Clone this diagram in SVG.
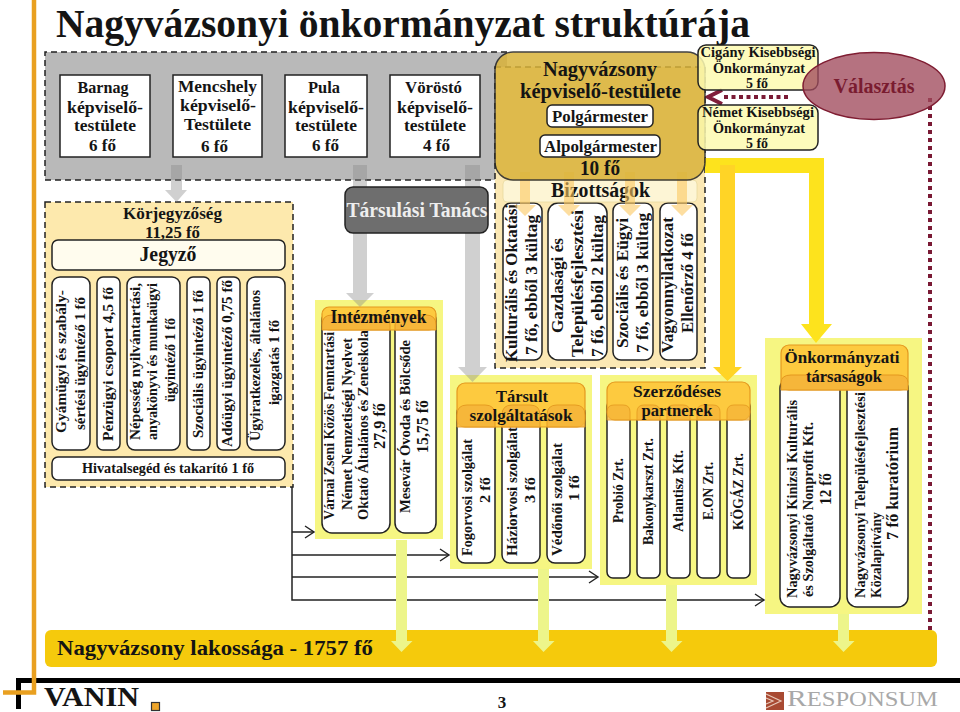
<svg xmlns="http://www.w3.org/2000/svg" width="960" height="712" viewBox="0 0 960 712">
<style>
text{font-family:"Liberation Serif","Times New Roman",serif;font-weight:bold;fill:#141414}
.m{text-anchor:middle}
.f14{font-size:15px}.f15{font-size:17px}.f16{font-size:17px}.f16b{font-size:18px}.f17{font-size:20px}.f18{font-size:20px}.f20{font-size:21px}
.box{fill:#fff;stroke:#222;stroke-width:1.5}
.col{fill:#fff;stroke:#222;stroke-width:1.5}
.dash{stroke:#222;stroke-width:1.5;stroke-dasharray:6 4;fill:none}
.pan{fill:#f6f682}
.hd{fill:#fdca3f;stroke:#e4981f;stroke-width:1.2}
.hc{fill:#f6b63a;stroke:#e4981f;stroke-width:1}
.ga{fill:#898989;opacity:.4}
.pa{fill:#edf58a}
.sa{fill:#fbc860;opacity:.6}
.blk{fill:none;stroke:#222;stroke-width:1.5}
</style>
<defs>
<marker id="open" markerUnits="userSpaceOnUse" markerWidth="12" markerHeight="14" refX="10" refY="7" orient="auto"><path d="M1 1L10 7L1 13" fill="none" stroke="#222" stroke-width="1.4"/></marker>
</defs>
<g id="frame">
<rect x="16" y="678" width="944" height="5" fill="#000"/>
<rect x="16" y="678" width="5" height="31" fill="#000"/>
<path d="M34 0V692.500H3" fill="none" stroke="#e9a020" stroke-width="4.500"/>
</g>
<text class="title" x="56" y="37" font-size="40" textLength="694" lengthAdjust="spacingAndGlyphs">Nagyvázsonyi önkormányzat struktúrája</text>
<g id="panels">
<rect x="45" y="52" width="462" height="128" fill="#b9b9b9"/>
<path class="dash" d="M507 52H45V180H507"/>
<rect x="45" y="202" width="248" height="285" fill="#fde9ad"/>
<rect class="dash" x="45" y="202" width="248" height="285"/>
<rect x="495" y="67" width="210" height="301" fill="#fbe8b4"/>
<rect class="dash" x="495" y="67" width="210" height="301"/>
<rect class="pan" x="315" y="300" width="128" height="239"/>
<rect class="pan" x="450" y="375" width="142" height="194"/>
<rect class="pan" x="600" y="375" width="157" height="210"/>
<rect class="pan" x="765" y="338" width="157" height="276"/>
<rect x="45" y="630" width="892" height="37" rx="6" fill="#f5ca0c"/>
</g>
<g id="connectors">
<path class="blk" d="M292 487V600H764" marker-end="url(#open)"/>
<path class="blk" d="M292 532H314" marker-end="url(#open)"/>
<path class="blk" d="M292 555H449" marker-end="url(#open)"/>
<path class="blk" d="M292 577H598" marker-end="url(#open)"/>
<path class="ga" d="M171 165H182V190H187L176.500 202L165 190H171Z"/>
<path class="ga" d="M353 165H367V293H374L360 307L346 293H353Z"/>
<path class="ga" d="M465 165H480V367H487L472.500 382L458 367H465Z"/>
<path d="M705 158H824V324H832L816 343L801 324H809V173H705Z" fill="#fde31d"/>
<path d="M720 165H735V367H742L727.500 381L713 367H720Z" fill="#ffd426"/>
<path class="pa" d="M396 540H407V641H412.500L401.500 652L391 641H396Z"/>
<path class="pa" d="M538 569H549V641H554.500L543.500 652L533 641H538Z"/>
<path class="pa" d="M666 585H677V641H682.500L671.500 652L661 641H666Z"/>
<path class="pa" d="M838 614H849V641H854.500L843.500 652L833 641H838Z"/>
<path d="M930 98V630" fill="none" stroke="#7a1a35" stroke-width="4" stroke-dasharray="4 4"/>
<path d="M788 97H722" fill="none" stroke="#7a1a35" stroke-width="4" stroke-dasharray="4 3.500"/>
<path d="M722 90L708 97L722 104" fill="none" stroke="#7f1d3a" stroke-width="4"/>
</g>
<g id="barnag"><rect class="box" x="60" y="75" width="90" height="82"/>
<text class="f16 m" x="103" y="93" textLength="51" lengthAdjust="spacingAndGlyphs">Barnag</text><text class="f16 m" x="105" y="113" textLength="76" lengthAdjust="spacingAndGlyphs">képviselő-</text><text class="f16 m" x="105" y="131" textLength="62" lengthAdjust="spacingAndGlyphs">testülete</text><text class="f16 m" x="102.500" y="151" textLength="27" lengthAdjust="spacingAndGlyphs">6 fő</text></g>
<g id="mencshely"><rect class="box" x="173" y="75" width="89" height="82"/>
<text class="f16 m" x="217.500" y="92" textLength="79" lengthAdjust="spacingAndGlyphs">Mencshely</text><text class="f16 m" x="218" y="111" textLength="76" lengthAdjust="spacingAndGlyphs">képviselő-</text><text class="f16 m" x="217.500" y="130" textLength="67" lengthAdjust="spacingAndGlyphs">Testülete</text><text class="f16 m" x="214.500" y="152" textLength="27" lengthAdjust="spacingAndGlyphs">6 fő</text></g>
<g id="pula"><rect class="box" x="285" y="75" width="82" height="82"/>
<text class="f16 m" x="324" y="93" textLength="32" lengthAdjust="spacingAndGlyphs">Pula</text><text class="f16 m" x="326" y="113" textLength="76" lengthAdjust="spacingAndGlyphs">képviselő-</text><text class="f16 m" x="326" y="131" textLength="62" lengthAdjust="spacingAndGlyphs">testülete</text><text class="f16 m" x="325.500" y="151" textLength="27" lengthAdjust="spacingAndGlyphs">6 fő</text></g>
<g id="vorosto"><rect class="box" x="390" y="75" width="90" height="82"/>
<text class="f16 m" x="433.500" y="93" textLength="57" lengthAdjust="spacingAndGlyphs">Vöröstó</text><text class="f16 m" x="435" y="113" textLength="76" lengthAdjust="spacingAndGlyphs">képviselő-</text><text class="f16 m" x="435" y="131" textLength="62" lengthAdjust="spacingAndGlyphs">testülete</text><text class="f16 m" x="436.500" y="151" textLength="27" lengthAdjust="spacingAndGlyphs">4 fő</text></g>
<g id="tarsulasi"><rect x="345" y="187" width="143" height="46" rx="8" fill="#6e6e6e" stroke="#222" stroke-width="1.500"/>
<text class="f17 m" x="417" y="217" textLength="141" lengthAdjust="spacingAndGlyphs" style="fill:#eee">Társulási Tanács</text></g>
<g id="korjegyzoseg">
<text class="f16 m" x="172.500" y="219" textLength="99" lengthAdjust="spacingAndGlyphs">Körjegyzőség</text>
<text class="f16 m" x="172.500" y="238" textLength="55" lengthAdjust="spacingAndGlyphs">11,25 fő</text>
<rect x="52" y="240" width="233" height="30" rx="6" fill="#fffcee" stroke="#222" stroke-width="1.500"/>
<text class="f18 m" x="168" y="261" textLength="57" lengthAdjust="spacingAndGlyphs">Jegyző</text>
<rect class="col" x="52" y="277" width="38" height="173" rx="8"/><rect class="col" x="97" y="277" width="23" height="173" rx="6"/><rect class="col" x="127" y="277" width="53" height="173" rx="8"/><rect class="col" x="187" y="277" width="23" height="173" rx="6"/><rect class="col" x="217" y="277" width="23" height="173" rx="6"/><rect class="col" x="247" y="277" width="38" height="173" rx="8"/>
<text class="f14" transform="translate(66 433) rotate(-90)" textLength="143" lengthAdjust="spacingAndGlyphs">Gyámügyi és  szabály-</text>
<text class="f14" transform="translate(85 430) rotate(-90)" textLength="133" lengthAdjust="spacingAndGlyphs">sértési ügyintéző 1 fő</text>
<text class="f14" transform="translate(113 441) rotate(-90)" textLength="154" lengthAdjust="spacingAndGlyphs">Pénzügyi csoport  4,5  fő</text>
<text class="f14" transform="translate(140 440) rotate(-90)" textLength="157" lengthAdjust="spacingAndGlyphs">Népesség nyilvántartási,</text>
<text class="f14" transform="translate(157 440) rotate(-90)" textLength="157" lengthAdjust="spacingAndGlyphs">anyakönyvi és munkaügyi</text>
<text class="f14" transform="translate(175 402) rotate(-90)" textLength="84" lengthAdjust="spacingAndGlyphs">ügyintéző 1 fő</text>
<text class="f14" transform="translate(203 438) rotate(-90)" textLength="148" lengthAdjust="spacingAndGlyphs">Szociális ügyintéző 1 fő</text>
<text class="f14" transform="translate(232 447) rotate(-90)" textLength="167" lengthAdjust="spacingAndGlyphs">Adóügyi ügyintéző 0,75 fő</text>
<text class="f14" transform="translate(260 441) rotate(-90)" textLength="151" lengthAdjust="spacingAndGlyphs">Ügyiratkezelés, általános</text>
<text class="f14" transform="translate(279 405) rotate(-90)" textLength="85" lengthAdjust="spacingAndGlyphs">igazgatás 1 fő</text>
<rect class="box" x="52" y="457" width="233" height="23" rx="6"/>
<text class="f14 m" x="168" y="473" textLength="172" lengthAdjust="spacingAndGlyphs">Hivatalsegéd és takarító 1 fő</text>
</g>
<g id="intezmenyek">
<rect class="col" x="322" y="310" width="68" height="223" rx="10"/><rect class="col" x="395" y="310" width="41" height="223" rx="10"/>
<text class="f14" transform="translate(334 520) rotate(-90)" textLength="188" lengthAdjust="spacingAndGlyphs">Várnai Zseni Közös Fenntartási</text>
<text class="f14" transform="translate(352 510) rotate(-90)" textLength="172" lengthAdjust="spacingAndGlyphs">Német Nemzetiségi Nyelvet</text>
<text class="f14" transform="translate(368 520) rotate(-90)" textLength="190" lengthAdjust="spacingAndGlyphs">Oktató Általános és Zeneiskola</text>
<text class="f15" transform="translate(385 449) rotate(-90)" textLength="46" lengthAdjust="spacingAndGlyphs">27,9 fő</text>
<text class="f14" transform="translate(410 513) rotate(-90)" textLength="173" lengthAdjust="spacingAndGlyphs">Mesevár Óvoda  és Bölcsőde</text>
<text class="f15" transform="translate(428 453) rotate(-90)" textLength="53" lengthAdjust="spacingAndGlyphs">15,75 fő</text>
<rect class="hd" x="322" y="307" width="114" height="23" rx="7"/>
<path class="hc" d="M322 330V325Q322 315 332 315H380Q390 315 390 325V330Z"/><path class="hc" d="M395 330V325Q395 315 405 315H426Q436 315 436 325V330Z"/>
<text class="f16b m" x="378.500" y="323" textLength="96" lengthAdjust="spacingAndGlyphs">Intézmények</text>
</g>
<g id="tarsult">
<rect class="col" x="457" y="405" width="38" height="158" rx="8"/><rect class="col" x="502" y="405" width="38" height="158" rx="8"/><rect class="col" x="547" y="405" width="38" height="158" rx="8"/>
<text class="f14" transform="translate(472 556) rotate(-90)" textLength="117" lengthAdjust="spacingAndGlyphs">Fogorvosi szolgálat</text>
<text class="f14" transform="translate(490 503) rotate(-90)" textLength="26" lengthAdjust="spacingAndGlyphs">2 fő</text>
<text class="f14" transform="translate(517 556) rotate(-90)" textLength="129" lengthAdjust="spacingAndGlyphs">Háziorvosi  szolgálat</text>
<text class="f14" transform="translate(535 503) rotate(-90)" textLength="26" lengthAdjust="spacingAndGlyphs">3 fő</text>
<text class="f14" transform="translate(562 556) rotate(-90)" textLength="113" lengthAdjust="spacingAndGlyphs">Védőnői  szolgálat</text>
<text class="f14" transform="translate(579 501) rotate(-90)" textLength="26" lengthAdjust="spacingAndGlyphs">1 fő</text>
<rect class="hd" x="457" y="383" width="128" height="44" rx="8"/>
<path class="hc" d="M457 427V415Q457 405 467 405H485Q495 405 495 415V427Z" opacity=".9"/>
<path class="hc" d="M502 427V415Q502 405 512 405H530Q540 405 540 415V427Z" opacity=".9"/>
<path class="hc" d="M547 427V415Q547 405 557 405H575Q585 405 585 415V427Z" opacity=".9"/>
<text class="f16 m" x="522" y="402" textLength="52" lengthAdjust="spacingAndGlyphs">Társult</text>
<text class="f16 m" x="521" y="421" textLength="103" lengthAdjust="spacingAndGlyphs">szolgáltatások</text>
</g>
<g id="szerzodeses">
<rect class="col" x="607" y="400" width="23" height="178" rx="6"/><rect class="col" x="637" y="400" width="23" height="178" rx="6"/><rect class="col" x="667" y="400" width="23" height="178" rx="6"/><rect class="col" x="697" y="400" width="23" height="178" rx="6"/><rect class="col" x="727" y="400" width="23" height="178" rx="6"/>
<text class="f14" transform="translate(623 523) rotate(-90)" textLength="65" lengthAdjust="spacingAndGlyphs">Probió Zrt.</text>
<text class="f14" transform="translate(653 545) rotate(-90)" textLength="107" lengthAdjust="spacingAndGlyphs">Bakonykarszt Zrt.</text>
<text class="f14" transform="translate(683 532) rotate(-90)" textLength="82" lengthAdjust="spacingAndGlyphs">Atlantisz Kft.</text>
<text class="f14" transform="translate(713 520) rotate(-90)" textLength="58" lengthAdjust="spacingAndGlyphs">E.ON Zrt.</text>
<text class="f14" transform="translate(743 530) rotate(-90)" textLength="77" lengthAdjust="spacingAndGlyphs">KÖGÁZ Zrt.</text>
<rect class="hd" x="607" y="382" width="143" height="38" rx="8"/>
<path class="hc" d="M607 420V412Q607 405 614 405H623Q630 405 630 412V420Z" opacity=".8"/><path class="hc" d="M637 420V412Q637 405 644 405H653Q660 405 660 412V420Z" opacity=".8"/><path class="hc" d="M667 420V412Q667 405 674 405H683Q690 405 690 412V420Z" opacity=".8"/><path class="hc" d="M697 420V412Q697 405 704 405H713Q720 405 720 412V420Z" opacity=".8"/><path class="hc" d="M727 420V412Q727 405 734 405H743Q750 405 750 412V420Z" opacity=".8"/>
<text class="f16 m" x="677" y="397" textLength="88" lengthAdjust="spacingAndGlyphs">Szerződéses</text>
<text class="f16 m" x="677" y="416" textLength="71" lengthAdjust="spacingAndGlyphs">partnerek</text>
</g>
<g id="onkormanyzati">
<rect class="col" x="780" y="378" width="60" height="229" rx="10"/><rect class="col" x="847" y="378" width="61" height="229" rx="10"/>
<text class="f14" transform="translate(797 598) rotate(-90)" textLength="198" lengthAdjust="spacingAndGlyphs">Nagyvázsonyi Kinizsi Kulturális</text>
<text class="f14" transform="translate(813 597) rotate(-90)" textLength="175" lengthAdjust="spacingAndGlyphs">és Szolgáltató Nonprofit Kft.</text>
<text class="f15" transform="translate(831 505) rotate(-90)" textLength="32" lengthAdjust="spacingAndGlyphs">12 fő</text>
<text class="f14" transform="translate(865 598) rotate(-90)" textLength="206" lengthAdjust="spacingAndGlyphs">Nagyvázsonyi Településfejlesztési</text>
<text class="f14" transform="translate(881 598) rotate(-90)" textLength="86" lengthAdjust="spacingAndGlyphs">Közalapítvány</text>
<text class="f15" transform="translate(898 540) rotate(-90)" textLength="113" lengthAdjust="spacingAndGlyphs">7 fő kuratórium</text>
<rect class="hd" x="781" y="345" width="127" height="45" rx="8"/>
<path class="hc" d="M781 390V383Q781 375 791 375H898Q908 375 908 383V390Z"/>
<text class="f16 m" x="842" y="363" textLength="115" lengthAdjust="spacingAndGlyphs">Önkormányzati</text>
<text class="f16 m" x="844" y="382" textLength="76" lengthAdjust="spacingAndGlyphs">társaságok</text>
</g>
<g id="bizottsagok">
<rect class="col" x="503" y="203" width="39" height="157" rx="8"/><rect class="col" x="548" y="203" width="59" height="157" rx="10"/><rect class="col" x="613" y="203" width="40" height="157" rx="8"/><rect class="col" x="660" y="203" width="37" height="157" rx="8"/>
<text class="f16" transform="translate(517 362) rotate(-90)" textLength="158" lengthAdjust="spacingAndGlyphs">Kulturális és Oktatási</text>
<text class="f16" transform="translate(537 355) rotate(-90)" textLength="140" lengthAdjust="spacingAndGlyphs">7 fő, ebből 3 kültag</text>
<text class="f16" transform="translate(563 333) rotate(-90)" textLength="95" lengthAdjust="spacingAndGlyphs">Gazdasági és</text>
<text class="f16" transform="translate(583 357) rotate(-90)" textLength="147" lengthAdjust="spacingAndGlyphs">Településfejlesztési</text>
<text class="f16" transform="translate(603 357) rotate(-90)" textLength="142" lengthAdjust="spacingAndGlyphs">7 fő, ebből 2 kültag</text>
<text class="f16" transform="translate(628 348) rotate(-90)" textLength="130" lengthAdjust="spacingAndGlyphs">Szociális és Eügyi</text>
<text class="f16" transform="translate(648 353) rotate(-90)" textLength="140" lengthAdjust="spacingAndGlyphs">7 fő, ebből 3 kültag</text>
<text class="f16" transform="translate(673 353) rotate(-90)" textLength="136" lengthAdjust="spacingAndGlyphs">Vagyonnyilatkozat</text>
<text class="f16" transform="translate(693 333) rotate(-90)" textLength="100" lengthAdjust="spacingAndGlyphs">Ellenőrző 4 fő</text>
<rect x="503" y="180" width="194" height="22" rx="4" fill="#fdf5d5" stroke="#e8d9a0" stroke-width=".8"/>
<text class="f18 m" x="600.500" y="197" textLength="99" lengthAdjust="spacingAndGlyphs">Bizottságok</text>
<path class="sa" d="M520 172H530V205H536L525 216L514 205H520Z"/><path class="sa" d="M564 172H574V205H580L569 216L558 205H564Z"/><path class="sa" d="M625 172H635V205H641L630 216L619 205H625Z"/><path class="sa" d="M677 172H687V205H693L682 216L671 205H677Z"/>
</g>
<g id="nagyvazsony">
<rect x="495" y="52" width="210" height="128" rx="18" fill="#d9b33a" opacity=".85" stroke="#222" stroke-width="1.500"/>
<text class="f20 m" x="600" y="76" textLength="114" lengthAdjust="spacingAndGlyphs">Nagyvázsony</text>
<text class="f20 m" x="600.500" y="98" textLength="161" lengthAdjust="spacingAndGlyphs">képviselő-testülete</text>
<rect class="box" x="547" y="105" width="106" height="22" rx="5"/>
<text class="f16 m" x="600" y="122" textLength="96" lengthAdjust="spacingAndGlyphs">Polgármester</text>
<rect class="box" x="540" y="135" width="120" height="22" rx="5"/>
<text class="f16 m" x="600.500" y="152" textLength="113" lengthAdjust="spacingAndGlyphs">Alpolgármester</text>
<text class="f18 m" x="600" y="175" textLength="40" lengthAdjust="spacingAndGlyphs">10 fő</text>
</g>
<g id="cigany"><rect x="698" y="45" width="120" height="45" rx="8" fill="#fdfab0" fill-opacity=".85" stroke="#222" stroke-width="1.500"/>
<text class="f14 m" x="758" y="57" textLength="115" lengthAdjust="spacingAndGlyphs">Cigány Kisebbségi</text><text class="f14 m" x="759" y="73" textLength="92" lengthAdjust="spacingAndGlyphs">Önkormányzat</text><text class="f14 m" x="757" y="88" textLength="22" lengthAdjust="spacingAndGlyphs">5 fő</text></g>
<g id="nemet"><rect x="698" y="105" width="120" height="45" rx="8" fill="#fdfab0" fill-opacity=".85" stroke="#222" stroke-width="1.500"/>
<text class="f14 m" x="758" y="117" textLength="112" lengthAdjust="spacingAndGlyphs">Német Kisebbségi</text><text class="f14 m" x="759" y="133" textLength="92" lengthAdjust="spacingAndGlyphs">Önkormányzat</text><text class="f14 m" x="757" y="148" textLength="22" lengthAdjust="spacingAndGlyphs">5 fő</text></g>
<g id="valasztas"><ellipse cx="874" cy="86" rx="71" ry="33.500" fill="#a04a5c" fill-opacity=".78" stroke="#7f1d32" stroke-width="1.500"/>
<text class="f18 m" x="874" y="93" textLength="81" lengthAdjust="spacingAndGlyphs" style="fill:#7a1c30">Választás</text></g>
<g id="lakossag"><text class="f20" x="57" y="655" textLength="316" lengthAdjust="spacingAndGlyphs">Nagyvázsony lakossága - 1757 fő</text></g>
<g id="footer">
<text x="44" y="706" font-size="28" textLength="95" lengthAdjust="spacingAndGlyphs">VANIN</text>
<rect x="151.500" y="702.500" width="8" height="8" fill="#eda52a" stroke="#333" stroke-width="1.200"/>
<text class="f16 m" x="502" y="708">3</text>
<rect x="766" y="692" width="18" height="18" fill="#a84a32"/>
<path d="M766 694L781 701L766 708M766 698L773 701L766 704" fill="none" stroke="#e8c8b8" stroke-width="1.200"/>
<text x="787" y="706" font-size="24" textLength="151" lengthAdjust="spacingAndGlyphs" style="font-weight:normal;fill:#a8a8a8">R<tspan font-size="20">ESPONSUM</tspan></text>
</g>
</svg>
